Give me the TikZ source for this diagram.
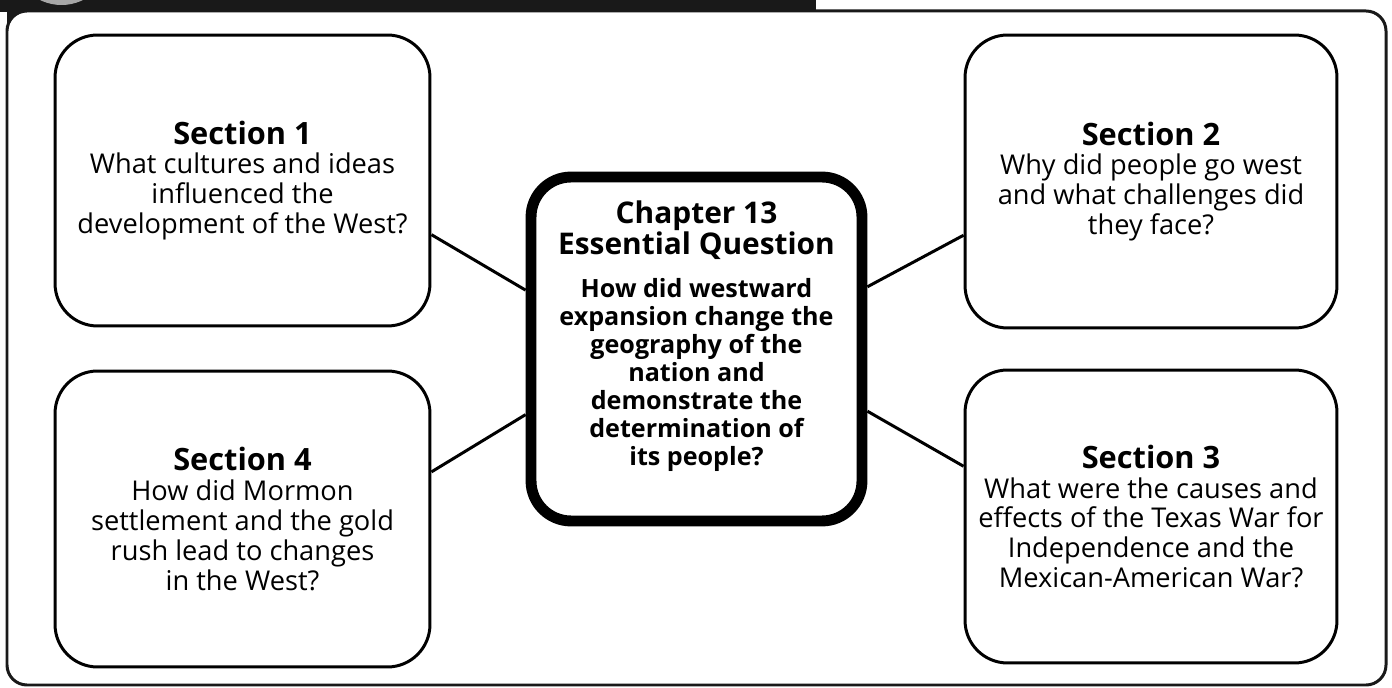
\documentclass[tikz,border=0pt]{standalone}
\usepackage{fontspec}
\setmainfont{Open Sans}
\newcommand\qhead[1]{{\fontsize{17}{16}\selectfont #1}}

\begin{document}
\begin{tikzpicture}[x=0.02cm,y=-0.02cm,line width=1.7pt,
  section/.style={draw,rounded corners=0.85cm,align=center,
    font=\fontsize{15.5}{17}\selectfont},
  essential/.style={draw,line width=6.2pt,rounded corners=0.8cm,align=center,
    font=\bfseries\fontsize{14.3}{16}\selectfont}]
\useasboundingbox (0,0) rectangle (1392,688);

% frame and title bar
\fill [black!90] (7,0) rectangle (40,40);
\filldraw [fill=white,draw=black!90,rounded corners=0.4cm] (7,11) rectangle (1386,685);
\begin{scope}
\clip (0,0) rectangle (816,12.5);
\fill [black!90] (0,0) rectangle (816,12.5);
\fill [gray!70] (61.5,-43.5) circle (48.5);
\end{scope}

\node [essential,minimum width=6.62cm,minimum height=6.88cm] (essq) at (696.5,349)
  {\qhead{Chapter 13}\\\qhead{Essential Question}\\[8pt]
   How did westward\\expansion change the\\geography of the\\nation and\\
   demonstrate the\\determination of\\its people?\\[2pt]\mbox{}};

\node [section,minimum width=7.5cm, minimum height=5.82cm] (sec1) at (242.5,180.5)
  {\textbf{\fontsize{17.5}{17}\selectfont Section 1}\\What cultures and ideas\\
   influenced the\\development of the West?};
\node [section,minimum width=7.44cm,minimum height=5.86cm] (sec2) at (1151,181.5)
  {\textbf{\fontsize{17.5}{17}\selectfont Section 2}\\Why did people go west\\
   and what challenges did\\they face?};
\node [section,minimum width=7.44cm,minimum height=5.86cm] (sec3) at (1151,516.5)
  {\textbf{\fontsize{17.5}{17}\selectfont Section 3}\\What were the causes and\\
   effects of the Texas War for\\Independence and the\\Mexican-American War?};
\node [section,minimum width=7.5cm, minimum height=5.92cm] (sec4) at (242.5,519)
  {\textbf{\fontsize{17.5}{17}\selectfont Section 4}\\How did Mormon\\
   settlement and the gold\\rush lead to changes\\in the West?};

\draw (node cs:name=sec1,angle=-16.8) -- (node cs:name=essq,angle=161);
\draw (node cs:name=sec4,angle=14.6)  -- (node cs:name=essq,angle=201.1);
\draw (node cs:name=sec2,angle=196.6) -- (node cs:name=essq,angle=20.2);
\draw (node cs:name=sec3,angle=165.1) -- (node cs:name=essq,angle=-20.2);
\end{tikzpicture}
\end{document}
